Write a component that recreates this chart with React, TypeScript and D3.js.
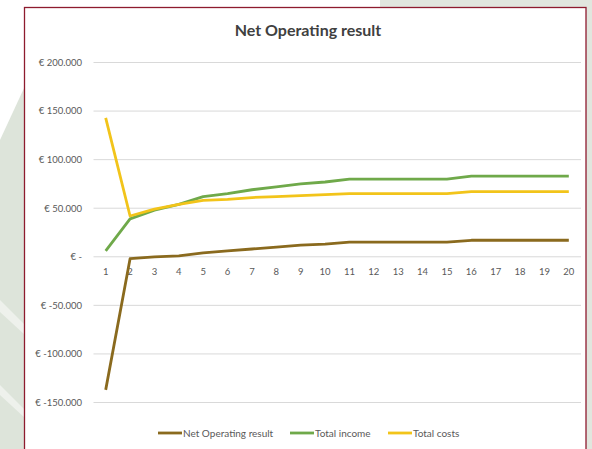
import * as React from "react";
import * as d3 from "d3";

const years = d3.range(1, 21).map(String);
const netResult = [-137000, -2000, 0, 1000, 4000, 6000, 8000, 10000, 12000, 13000, 15000, 15000, 15000, 15000, 15000, 17000, 17000, 17000, 17000, 17000];
const totalIncome = [6000, 39000, 48000, 54000, 62000, 65000, 69000, 72000, 75000, 77000, 80000, 80000, 80000, 80000, 80000, 83000, 83000, 83000, 83000, 83000];
const totalCosts = [143000, 42000, 49000, 54000, 58000, 59000, 61000, 62000, 63000, 64000, 65000, 65000, 65000, 65000, 65000, 67000, 67000, 67000, 67000, 67000];
const yTicks = [200000, 150000, 100000, 50000, 0, -50000, -100000, -150000];
const seriesNames = ["Net Operating result", "Total income", "Total costs"];
const seriesColors = ["#8a6a1e", "#6fa94a", "#f2c41a"];

// accounting style: € 50.000, € -50.000, € -
const fmt = (v: number) =>
  v === 0 ? "€ -" : "€ " + (v < 0 ? "-" : "") + d3.format(",")(Math.abs(v)).replace(/,/g, ".");

export default function App() {
  const width = 592;
  const height = 449;
  const font = "Lato, 'Open Sans', sans-serif";

  const x = d3.scaleBand().domain(years).range([93.5, 581]);
  const y = d3.scaleLinear().domain([-150000, 200000]).range([402.5, 62.5]);
  const cx = (d: string) => (x(d) as number) + x.bandwidth() / 2;

  const line = d3
    .line<number>()
    .x((_, i) => cx(years[i]))
    .y(d => y(d));

  const series = [netResult, totalIncome, totalCosts];
  const legendX = [158, 290, 388];

  return (
    <svg width={width} height={height} style={{ position: "absolute", left: 0, top: 0 }}>
      <rect width={width} height={height} fill="#ffffff" />
      {/* faint background leaves */}
      <path d="M0,140 L25,86 L25,449 L0,449 Z" fill="#dde4da" />
      <path d="M0,300 L25,325 L25,335 L0,312 Z" fill="#eef1ec" />
      <path d="M0,385 L25,410 L25,418 L0,395 Z" fill="#eef1ec" />
      <path d="M380,0 L592,0 L592,8 L380,8 Z" fill="#e1e6de" />
      <rect x={586} y={0} width={6} height={449} fill="#e1e6de" />

      <rect x={24.5} y={7.5} width={561.5} height={460} fill="#ffffff" stroke="#8e1b2e" strokeWidth={1.3} />

      <text x={308} y={36} textAnchor="middle" fontFamily={font} fontWeight={700} fontSize={16} fill="#404040">
        Net Operating result
      </text>

      {yTicks.map(t => (
        <g key={t}>
          <line x1={93.5} x2={581} y1={y(t)} y2={y(t)} stroke="#d9d9d9" strokeWidth={1} />
          <text x={82} y={y(t)} dy="0.35em" textAnchor="end" fontFamily={font} fontSize={9.5} fill="#595959">
            {fmt(t)}
          </text>
        </g>
      ))}

      {years.map(d => (
        <text key={d} x={cx(d)} y={y(0) + 15} dy="0.35em" textAnchor="middle" fontFamily={font} fontSize={9.5} fill="#595959">
          {d}
        </text>
      ))}

      {series.map((s, i) => (
        <path key={i} d={line(s) as string} fill="none" stroke={seriesColors[i]} strokeWidth={2.8} strokeLinejoin="round" />
      ))}

      {seriesNames.map((n, i) => (
        <g key={n} transform={`translate(${legendX[i]},433)`}>
          <line x1={0} x2={24} y1={0} y2={0} stroke={seriesColors[i]} strokeWidth={2.8} />
          <text x={25} y={0} dy="0.35em" fontFamily={font} fontSize={10} fill="#595959">
            {n}
          </text>
        </g>
      ))}
    </svg>
  );
}
